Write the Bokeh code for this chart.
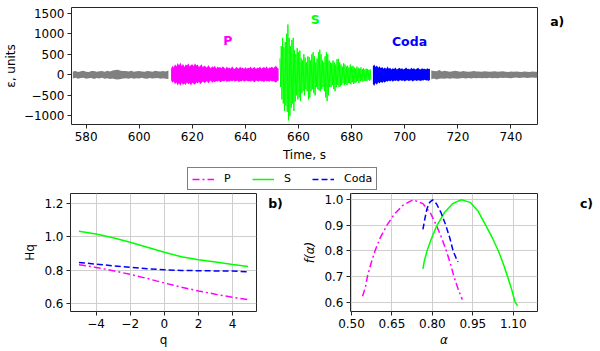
import numpy as np
from bokeh.plotting import figure
from bokeh.layouts import column, row
from bokeh.models import Range1d, FixedTicker, Label, Legend, LegendItem
from bokeh.embed import file_html
from bokeh.resources import INLINE

FONT = "DejaVu Sans"
GRAY = "#808080"
MAG = "#ff00ff"
GRN = "#00ff00"
BLU = "#0000ff"

# ---------------- panel a: seismogram envelope (upper / lower peaks)
noise1_t0, noise1_step = 575.0, 1.0
noise1_hi = [80, 95, 70, 88, 100, 75, 68, 92, 96, 72, 88, 94, 76, 100, 82, 105, 115, 125, 100, 92,
             96, 80, 100, 74, 90, 96, 82, 72, 94, 86, 76, 100, 90, 78, 95, 84, 104]
noise1_lo = [-88, -74, -96, -78, -70, -94, -86, -80, -100, -76, -88, -74, -96, -86, -104, -92, -108, -115, -100, -88,
             -82, -98, -76, -94, -84, -92, -74, -90, -98, -80, -92, -84, -78, -96, -86, -98, -104]

p_t0, p_step = 612.0, 0.5
p_hi = [150, 220, 180, 260, 200, 290, 230, 300, 210, 270, 190, 250, 230, 280, 200, 240, 260, 210, 280, 230,
        250, 190, 220, 260, 180, 230, 200, 170, 240, 190, 160, 210, 180, 220, 150, 200, 170, 190, 160, 210,
        170, 140, 200, 160, 180, 150, 210, 160, 140, 190, 170, 150, 200, 160, 180, 140, 190, 150, 170, 160,
        200, 150, 170, 190, 140, 180, 160, 200, 150, 170, 190, 160, 210, 150, 180, 170, 200, 160, 190, 220, 170, 150]
p_lo = [-130, -190, -160, -230, -180, -260, -200, -270, -190, -240, -210, -250, -180, -230, -200, -260, -190, -220, -240, -180,
        -210, -170, -230, -190, -160, -200, -180, -150, -210, -170, -140, -190, -160, -180, -150, -170, -140, -180, -160, -150,
        -160, -130, -180, -150, -170, -140, -160, -130, -170, -150, -140, -180, -150, -160, -130, -170, -150, -140, -160, -150,
        -170, -140, -160, -180, -140, -150, -170, -140, -160, -150, -180, -140, -160, -150, -170, -140, -160, -150, -170, -190, -150, -140]

s_t0, s_step = 653.0, 0.5
s_hi = [400, 700, 900, 670, 800, 1000, 1225, 900, 700, 850,
        900, 600, 500, 650, 550, 590, 400, 350, 500, 420,
        300, 450, 430, 350, 500, 550, 450, 300, 400, 550,
        610, 500, 350, 300, 450, 550, 500, 350, 300, 280,
        350, 300, 250, 380, 390, 300, 250, 200, 280, 250,
        200, 220, 180, 250, 200, 220, 180, 150, 200, 170,
        150, 180, 140, 160, 130, 150, 140, 120, 130]
s_lo = [-300, -600, -700, -880, -750, -900, -1110, -1000, -800, -700,
        -880, -650, -500, -600, -550, -640, -450, -400, -500, -350,
        -400, -600, -560, -400, -350, -450, -500, -300, -350, -380,
        -400, -350, -300, -400, -550, -640, -500, -300, -300, -250,
        -350, -400, -300, -250, -300, -280, -250, -200, -250, -220,
        -250, -200, -200, -230, -180, -220, -200, -180, -150, -200,
        -160, -140, -170, -150, -140, -150, -120, -140, -130]

c_t0, c_step = 688.0, 0.5
c_hi = [200, 250, 190, 230, 170, 210, 160, 190, 150, 180, 140, 200, 150, 170, 130, 160, 140, 180, 130, 150, 170, 140,
        160, 130, 150, 180, 140, 150, 130, 170, 140, 160, 130, 150, 170, 140, 130, 160, 140, 150, 130, 160, 140, 150]
c_lo = [-220, -270, -200, -240, -180, -210, -170, -200, -160, -190, -150, -170, -140, -160, -130, -170, -140, -150, -130, -160, -140, -130,
        -150, -130, -160, -140, -130, -150, -140, -130, -160, -140, -130, -150, -130, -140, -150, -130, -140, -120, -140, -130, -150, -120]

noise2_t0, noise2_step = 710.0, 1.0
noise2_hi = [105, 92, 88, 115, 82, 98, 90, 76, 88, 98, 86, 76, 92, 84, 74, 84, 92, 82, 78, 72,
             86, 78, 74, 84, 90, 72, 80, 86, 76, 70, 82, 74, 84, 76, 68, 82, 74, 70, 80, 72, 76]
noise2_lo = [-110, -92, -115, -98, -88, -96, -86, -94, -82, -92, -96, -82, -78, -90, -80, -92, -78, -86, -76, -84,
             -78, -86, -72, -82, -76, -84, -72, -80, -70, -78, -82, -74, -68, -78, -72, -68, -76, -70, -68, -74, -70]

phase_names = ["P", "S", "Coda"]

# ---------------- panel b: Hq(q)
q = [-5, -4, -3, -2, -1, 0, 1, 2, 3, 4, 4.9]
hq_P = [0.832, 0.816, 0.796, 0.774, 0.749, 0.722, 0.697, 0.674, 0.654, 0.636, 0.621]
hq_S = [1.034, 1.018, 0.995, 0.968, 0.938, 0.908, 0.880, 0.862, 0.848, 0.834, 0.822]
hq_C = [0.846, 0.836, 0.826, 0.816, 0.808, 0.802, 0.798, 0.796, 0.795, 0.794, 0.790]

# ---------------- panel c: f(alpha)
al_P = [0.541, 0.552, 0.559, 0.572, 0.587, 0.606, 0.631, 0.660, 0.690, 0.728, 0.765, 0.792, 0.815, 0.835, 0.852, 0.867, 0.880, 0.896, 0.911]
f_P = [0.623, 0.660, 0.700, 0.750, 0.800, 0.850, 0.900, 0.945, 0.978, 1.000, 0.985, 0.950, 0.900, 0.850, 0.800, 0.750, 0.700, 0.650, 0.610]
al_S = [0.765, 0.770, 0.780, 0.797, 0.817, 0.845, 0.875, 0.908, 0.940, 0.970, 0.998, 1.023, 1.045, 1.063, 1.079, 1.094, 1.107, 1.116]
f_S = [0.730, 0.760, 0.800, 0.850, 0.900, 0.950, 0.985, 1.000, 0.990, 0.955, 0.900, 0.850, 0.800, 0.750, 0.700, 0.650, 0.600, 0.586]
al_C = [0.765, 0.772, 0.780, 0.790, 0.801, 0.815, 0.832, 0.850, 0.865, 0.877, 0.887, 0.895]
f_C = [0.884, 0.925, 0.965, 0.990, 1.000, 0.985, 0.950, 0.900, 0.850, 0.800, 0.775, 0.757]


def zigzag(t0, step, hi, lo):
    xs, ys = [], []
    for i, (h, l) in enumerate(zip(hi, lo)):
        t = t0 + i * step
        xs += [t, t + step / 2]
        ys += [h, l]
    return xs, ys


def style(p, fs="12px"):
    p.outline_line_color = "#262626"
    p.outline_line_width = 1
    p.background_fill_color = "white"
    p.border_fill_color = "white"
    for ax in (p.xaxis[0], p.yaxis[0]):
        ax.axis_line_color = None
        ax.major_tick_out = 4
        ax.major_tick_in = 0
        ax.minor_tick_line_color = None
        ax.major_tick_line_color = "#262626"
        ax.major_label_text_font = FONT
        ax.major_label_text_font_size = fs
        ax.major_label_text_color = "black"
        ax.axis_label_text_font = FONT
        ax.axis_label_text_font_size = fs
        ax.axis_label_text_font_style = "normal"
        ax.axis_label_text_color = "black"
        ax.major_label_standoff = 3
        ax.axis_label_standoff = 4


def set_ticks(p, xt, yt, xlab, ylab):
    xtk = FixedTicker(ticks=xt)
    ytk = FixedTicker(ticks=yt)
    p.xaxis[0].ticker = xtk
    p.yaxis[0].ticker = ytk
    p.xgrid[0].ticker = xtk
    p.ygrid[0].ticker = ytk
    p.xaxis[0].major_label_overrides = dict(zip(xt, xlab))
    p.yaxis[0].major_label_overrides = dict(zip(yt, ylab))


def blank(w, h):
    f = figure(width=w, height=h, x_range=Range1d(0, w), y_range=Range1d(0, h),
               x_axis_location=None, y_axis_location=None,
               output_backend="svg", toolbar_location=None, min_border=0)
    f.grid.visible = False
    f.outline_line_color = None
    f.background_fill_color = "white"
    f.border_fill_color = "white"
    return f


def tag(f, x, y, text):
    f.add_layout(Label(x=x, y=y, text=text, text_color="black", text_font=FONT, text_font_size="12.5px",
                       text_font_style="bold", text_align="center", text_baseline="middle"))


# ================= top figure
p1 = figure(width=538, height=165, x_range=Range1d(574.5, 750), y_range=Range1d(-1210, 1640),
            output_backend="svg", toolbar_location=None,
            min_border_left=70, min_border_right=1, min_border_top=7, min_border_bottom=41)
style(p1)
p1.grid.visible = False
set_ticks(p1, [580, 600, 620, 640, 660, 680, 700, 720, 740],
          [-1000, -500, 0, 500, 1000, 1500],
          ["580", "600", "620", "640", "660", "680", "700", "720", "740"],
          ["\u22121000", "\u2212500", "0", "500", "1000", "1500"])
p1.xaxis.axis_label = "Time, s"
p1.yaxis.axis_label = "\u03b5, units"
p1.yaxis.axis_label_standoff = 3

for (t0, st, hi, lo, col) in [(noise1_t0, noise1_step, noise1_hi, noise1_lo, GRAY),
                              (p_t0, p_step, p_hi, p_lo, MAG),
                              (c_t0, c_step, c_hi, c_lo, BLU),
                              (noise2_t0, noise2_step, noise2_hi, noise2_lo, GRAY)]:
    t = t0 + st * np.arange(len(hi))
    p1.varea(x=t, y1=lo, y2=hi, fill_color=col)

xs, ys = zigzag(s_t0, s_step, s_hi, s_lo)
p1.line(xs, ys, line_color=GRN, line_width=1, line_join="bevel")

for name, x, y, col in zip(phase_names, [633.4, 666.3, 701.8], [836, 1340, 819], [MAG, GRN, BLU]):
    p1.add_layout(Label(x=x, y=y, text=name, text_color=col, text_font=FONT, text_font_size="12.5px",
                        text_font_style="bold", text_align="center", text_baseline="middle"))

pa = blank(62, 165)
tag(pa, 18.7, 145, "a)")

# ================= legend strip
pl = blank(600, 28)
rP = pl.line([-50, -40], [-50, -40], line_color=MAG, line_width=1.5, line_dash="7 3 2 3")
rS = pl.line([-50, -40], [-50, -40], line_color=GRN, line_width=1.5)
rC = pl.line([-50, -40], [-50, -40], line_color=BLU, line_width=1.5, line_dash="6 3")
leg = Legend(items=[LegendItem(label=phase_names[0], renderers=[rP]),
                    LegendItem(label=phase_names[1], renderers=[rS]),
                    LegendItem(label=phase_names[2], renderers=[rC])],
             location=(187, 3), orientation="horizontal")
leg.label_text_font = FONT
leg.label_text_font_size = "11px"
leg.label_text_color = "black"
leg.glyph_width = 22
leg.glyph_height = 12
leg.label_height = 12
leg.label_width = 20
leg.label_standoff = 10
leg.spacing = 8
leg.padding = 4
leg.margin = 0
leg.border_line_color = "black"
leg.border_line_width = 1
leg.background_fill_color = "white"
leg.background_fill_alpha = 1
pl.add_layout(leg)

# ================= panel b
p2 = figure(width=257, height=158, x_range=Range1d(-5.495, 5.395), y_range=Range1d(0.55, 1.262),
            output_backend="svg", toolbar_location=None,
            min_border_left=70, min_border_right=1, min_border_top=0, min_border_bottom=40)
style(p2)
p2.grid.grid_line_color = "#cfcfcf"
p2.grid.grid_line_width = 1
set_ticks(p2, [-4, -2, 0, 2, 4], [0.6, 0.8, 1.0, 1.2],
          ["\u22124", "\u22122", "0", "2", "4"], ["0.6", "0.8", "1.0", "1.2"])
p2.xaxis.axis_label = "q"
p2.yaxis.axis_label = "Hq"
p2.xaxis.axis_label_standoff = 2
p2.line(q, hq_P, line_color=MAG, line_width=1.5, line_dash="7 3 2 3")
p2.line(q, hq_S, line_color=GRN, line_width=1.5)
p2.line(q, hq_C, line_color=BLU, line_width=1.5, line_dash="6 3")

pb = blank(43, 158)
tag(pb, 18, 144.5, "b)")

# ================= panel c
p3 = figure(width=238, height=158, x_range=Range1d(0.4963, 1.19), y_range=Range1d(0.5636, 1.0246),
            output_backend="svg", toolbar_location=None,
            min_border_left=50, min_border_right=1, min_border_top=0, min_border_bottom=40)
style(p3)
p3.grid.grid_line_color = "#cfcfcf"
p3.grid.grid_line_width = 1
set_ticks(p3, [0.5, 0.65, 0.8, 0.95, 1.1], [0.6, 0.7, 0.8, 0.9, 1.0],
          ["0.50", "0.65", "0.80", "0.95", "1.10"], ["0.6", "0.7", "0.8", "0.9", "1.0"])
p3.xaxis.axis_label = "\u03b1"
p3.yaxis.axis_label = "f(\u03b1)"
p3.xaxis.axis_label_text_font_style = "italic"
p3.yaxis.axis_label_text_font_style = "italic"
p3.xaxis.axis_label_standoff = 2
p3.line(al_P, f_P, line_color=MAG, line_width=1.5, line_dash="7 3 2 3")
p3.line(al_S, f_S, line_color=GRN, line_width=1.5)
p3.line(al_C, f_C, line_color=BLU, line_width=1.5, line_dash="6 3")

pc = blank(62, 158)
tag(pc, 48, 145, "c)")

layout = column(row(p1, pa), pl, row(p2, pb, p3, pc))
open("out.html", "w").write(file_html(layout, INLINE))
